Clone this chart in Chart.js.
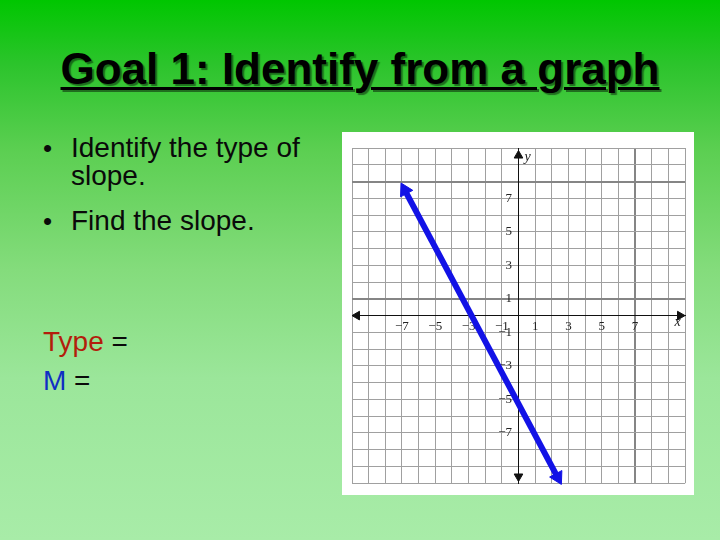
<!DOCTYPE html>
<html>
<head>
<meta charset="utf-8">
<script src="https://cdn.jsdelivr.net/npm/chart.js@4"></script>
<style>
    html, body { margin: 0; padding: 0; }
    body {
        width: 720px; height: 540px; position: relative; overflow: hidden;
        background: linear-gradient(#00c600 0%, #2cc42c 12%, #5ccf52 28%, #84dc7c 50%, #9be69a 70%, #a8eca8 100%);
        font-family: "Liberation Sans", Arial, sans-serif;
    }
    #title {
        position: absolute; left: 0; width: 720px; top: 47px; text-align: center;
        font-size: 44px; line-height: 44px; font-weight: bold; color: #000;
        text-decoration: underline; text-decoration-thickness: 3px; text-underline-offset: 3px;
        text-shadow: 2px 2px 1px rgba(0, 0, 0, 0.45);
    }
    .ln { position: absolute; font-size: 28px; line-height: 28px; color: #0a0a0a; white-space: nowrap; }
    .bul { position: absolute; font-size: 26px; }
    #box { position: absolute; left: 342px; top: 132px; width: 352px; height: 363px; background: #fff; }
    #chart { display: block; }
</style>
</head>
<body>
<div id="title">Goal 1: Identify from a graph</div>
<div class="ln" style="left:71px; top:134px;"><span class="bul" style="left:-28px;">•</span>Identify the type of</div>
<div class="ln" style="left:71px; top:162px;">slope.</div>
<div class="ln" style="left:71px; top:207px;"><span class="bul" style="left:-28px;">•</span>Find the slope.</div>
<div class="ln" style="left:43px; top:328px;"><span style="color:#b31d0c;">Type</span> =</div>
<div class="ln" style="left:43px; top:367px;"><span style="color:#0f2fc4;">M</span> =</div>
<div id="box"><canvas id="chart" width="352" height="363"></canvas></div>

<script>
// grid range and labelled ticks
var axisMin = -10;
var axisMax = 10;
var xTicks = [-7, -5, -3, -1, 1, 3, 5, 7];
var yTicks = [7, 5, 3, 1, -1, -3, -5, -7];

// the blue line (ends at the arrow heads)
var lineX = [-6.83, 2.35];
var lineY = [7.49, -9.65];

// darker scanned grid lines
var darkX = [7];
var darkY = [1, 8];

function minus(v) {
    return v < 0 ? '\u2212' + Math.abs(v) : '' + v;
}

var linePts = [];
for (var i = 0; i < lineX.length; i++) {
    linePts.push({ x: lineX[i], y: lineY[i] });
}

// arrow ends of the axes
var xArrows = [{ x: axisMin + 0.3, y: 0 }, { x: axisMax - 0.3, y: 0 }];
var yArrows = [{ x: 0, y: axisMax - 0.45 }, { x: 0, y: axisMin + 0.4 }];

var axisNames = {
    id: 'axisNames',
    afterDatasetsDraw: function (chart) {
        var c = chart.ctx;
        var sx = chart.scales.x, sy = chart.scales.y;
        c.save();
        c.fillStyle = '#222';
        c.font = 'italic 14px "Liberation Serif"';
        c.textAlign = 'center';
        c.textBaseline = 'middle';
        c.fillText('x', sx.getPixelForValue(9.55), sy.getPixelForValue(-0.4));
        c.fillText('y', sx.getPixelForValue(0.55), sy.getPixelForValue(9.45));
        c.restore();
    }
};

var ctx = document.getElementById('chart').getContext('2d');
var myChart = new Chart(ctx, {
    type: 'scatter',
    data: {
        datasets: [{
            data: linePts,
            showLine: true,
            borderColor: '#1212e6',
            backgroundColor: '#1212e6',
            borderWidth: 6,
            pointStyle: 'triangle',
            pointRadius: 8,
            pointRotation: [-28, 152],
            pointBorderWidth: 1,
            clip: false
        }, {
            data: xArrows,
            showLine: false,
            pointStyle: 'triangle',
            pointRadius: 5,
            pointRotation: [-90, 90],
            backgroundColor: '#111',
            borderColor: '#111',
            borderWidth: 1,
            clip: false
        }, {
            data: yArrows,
            showLine: false,
            pointStyle: 'triangle',
            pointRadius: 5,
            pointRotation: [0, 180],
            backgroundColor: '#111',
            borderColor: '#111',
            borderWidth: 1,
            clip: false
        }]
    },
    options: {
        responsive: false,
        animation: false,
        events: [],
        layout: { padding: { left: 10, right: 6, top: 16, bottom: 10 } },
        plugins: { legend: { display: false }, tooltip: { enabled: false } },
        scales: {
            x: {
                type: 'linear',
                min: axisMin,
                max: axisMax,
                position: { y: 0 },
                border: { display: true, color: '#111', width: 1 },
                grid: {
                    drawTicks: false,
                    color: function (c) { return darkX.indexOf(c.tick.value) >= 0 ? '#858585' : '#a0a0a0'; },
                    lineWidth: function (c) { return darkX.indexOf(c.tick.value) >= 0 ? 2 : 1; }
                },
                ticks: {
                    stepSize: 1,
                    autoSkip: false,
                    maxRotation: 0,
                    padding: 3,
                    color: '#222',
                    font: { family: '"Liberation Serif"', size: 13 },
                    callback: function (v) { return xTicks.indexOf(v) >= 0 ? minus(v) : ''; }
                }
            },
            y: {
                type: 'linear',
                min: axisMin,
                max: axisMax,
                position: { x: 0 },
                border: { display: true, color: '#111', width: 1 },
                grid: {
                    drawTicks: false,
                    color: function (c) { return darkY.indexOf(c.tick.value) >= 0 ? '#858585' : '#a0a0a0'; },
                    lineWidth: function (c) { return darkY.indexOf(c.tick.value) >= 0 ? 2 : 1; }
                },
                ticks: {
                    stepSize: 1,
                    autoSkip: false,
                    padding: 4,
                    color: '#222',
                    font: { family: '"Liberation Serif"', size: 13 },
                    callback: function (v) { return yTicks.indexOf(v) >= 0 ? minus(v) + '\u00a0\u00a0' : ''; }
                }
            }
        }
    },
    plugins: [axisNames]
});
</script>
</body>
</html>
